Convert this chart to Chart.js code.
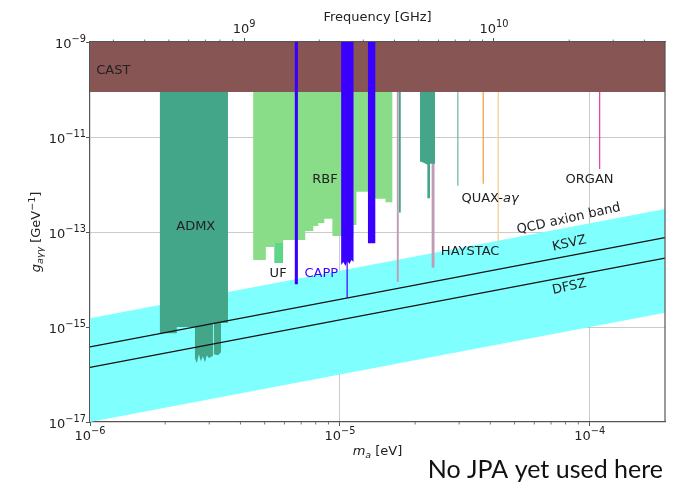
<!DOCTYPE html>
<html><head><meta charset="utf-8">
<script src="https://cdn.jsdelivr.net/npm/chart.js@4.4.0/dist/chart.umd.min.js"></script>
<style>
html,body{margin:0;padding:0;background:#fff;}
#wrap{position:relative;width:690px;height:486px;}
</style></head><body>
<div id="wrap"><canvas id="c" width="690" height="486"></canvas></div>
<script>
// ---------- data ----------
const H_EV = 4.135667e-15; // eV*s, mass -> frequency
const massRange = [1e-6, 2e-4];
const couplingRange = [1e-17, 1e-9];
const massTicks = [1e-6, 1e-5, 1e-4];
const massTickExp = ['−6', '−5', '−4'];
const freqTicks = [1e9, 1e10];
const freqTickExp = ['9', '10'];
const couplingTicks = [1e-17, 1e-15, 1e-13, 1e-11, 1e-9];
const couplingTickExp = ['−17', '−15', '−13', '−11', '−9'];

const castMass = [1e-6, 2e-4];
const castG = [8.9e-11, 8.9e-11];

const admxMass = [1.90e-6, 2.225e-6, 2.225e-6, 2.63e-6, 2.63e-6, 2.677e-6, 2.727e-6, 2.778e-6, 2.83e-6, 2.883e-6, 2.937e-6, 2.992e-6, 3.076e-6, 3.105e-6, 3.105e-6, 3.133e-6, 3.133e-6, 3.251e-6, 3.343e-6, 3.343e-6, 3.566e-6];
const admxG = [7.43e-16, 7.43e-16, 9.95e-16, 9.95e-16, 2.21e-16, 1.73e-16, 2.68e-16, 1.91e-16, 2.43e-16, 1.82e-16, 2.55e-16, 2.21e-16, 2.43e-16, 2.43e-16, 1.15e-15, 1.15e-15, 2.68e-16, 2.55e-16, 2.95e-16, 1.21e-15, 1.21e-15];

const rbfMass = [4.494e-6, 5.054e-6, 5.054e-6, 5.457e-6, 5.457e-6, 5.932e-6, 5.932e-6, 6.813e-6, 7.268e-6, 7.268e-6, 7.828e-6, 7.828e-6, 8.198e-6, 8.198e-6, 8.664e-6, 8.664e-6, 9.33e-6, 9.33e-6, 1.133e-5, 1.133e-5, 1.165e-5, 1.165e-5, 1.29e-5, 1.389e-5, 1.523e-5, 1.523e-5, 1.625e-5];
const rbfG = [2.58e-14, 2.58e-14, 4.85e-14, 4.85e-14, 5.89e-14, 5.89e-14, 6.81e-14, 6.81e-14, 6.81e-14, 1.055e-13, 1.055e-13, 1.345e-13, 1.345e-13, 1.556e-13, 1.556e-13, 1.89e-13, 1.89e-13, 8.27e-14, 8.27e-14, 1.41e-13, 1.41e-13, 7.01e-13, 7.01e-13, 4.99e-13, 4.99e-13, 4.21e-13, 4.21e-13];

const ufMass = [5.457e-6, 5.932e-6];
const ufG = [2.23e-14, 2.23e-14];

const capp1Mass = [6.585e-6, 6.795e-6];
const capp1G = [7.92e-15, 7.92e-15];
const capp2Mass = [1.011e-5, 1.033e-5, 1.052e-5, 1.072e-5, 1.092e-5, 1.112e-5, 1.136e-5];
const capp2G = [2.02e-14, 2.34e-14, 1.93e-14, 2.46e-14, 2.12e-14, 2.58e-14, 2.34e-14];
const capp2LineMass = [1.069e-5, 1.069e-5];
const capp2LineG = [1e-9, 4.13e-15];
const capp3Mass = [1.293e-5, 1.389e-5];
const capp3G = [5.8e-14, 5.8e-14];

const haystac1Mass = [1.686e-5, 1.722e-5];
const haystac1G = [8.98e-15, 8.98e-15];
const haystac2Mass = [2.324e-5, 2.36e-5, 2.396e-5];
const haystac2G = [1.85e-14, 1.72e-14, 1.85e-14];

const tealThin1Mass = [1.722e-5, 1.754e-5];
const tealThin1G = [2.57e-13, 2.57e-13];
const tealBlockMass = [2.092e-5, 2.164e-5, 2.239e-5, 2.239e-5, 2.294e-5, 2.294e-5, 2.403e-5];
const tealBlockG = [3.06e-12, 2.87e-12, 2.6e-12, 5.16e-13, 5.16e-13, 2.73e-12, 2.73e-12];
const tealThin2Mass = [2.964e-5, 2.964e-5];
const tealThin2G = [1e-9, 9.39e-13];

const quax1Mass = [3.746e-5, 3.746e-5];
const quax1G = [1e-9, 1.034e-12];
const quax2Mass = [4.302e-5, 4.302e-5];
const quax2G = [1e-9, 6.27e-14];
const organMass = [1.095e-4, 1.095e-4];
const organG = [1e-9, 2.11e-12];

const bandMass = [1e-6, 2e-4];
const bandUpperG = [1.53e-15, 3.06e-13];
const bandLowerG = [1e-17, 2e-15];
const ksvzG = [3.82e-16, 7.64e-14];
const dfszG = [1.405e-16, 2.81e-14];

// ---------- helpers ----------
const pts = (xs, ys) => xs.map((x, i) => ({x: x, y: ys[i]}));
const region = (label, xs, ys, color, order) => ({
  label, data: pts(xs, ys), fill: 'end', backgroundColor: color,
  borderColor: 'rgba(0,0,0,0)', borderWidth: 0, pointRadius: 0, order
});
const vline = (label, xs, ys, color, width, order) => ({
  label, data: pts(xs, ys), fill: false, borderColor: color,
  borderWidth: width, pointRadius: 0, order
});

const TEAL = '#43a688', CAPPC = '#3a00ff', HAY = '#bf9db4';

const datasets = [
  {label: 'KSVZ', data: pts(bandMass, ksvzG), fill: false, borderColor: '#111', borderWidth: 1.3, pointRadius: 0, order: 0},
  {label: 'DFSZ', data: pts(bandMass, dfszG), fill: false, borderColor: '#111', borderWidth: 1.3, pointRadius: 0, order: 0},
  region('CAPP1', capp1Mass, capp1G, CAPPC, 1),
  region('CAPP2', capp2Mass, capp2G, CAPPC, 1),
  vline('CAPP2 line', capp2LineMass, capp2LineG, CAPPC, 1.2, 1),
  region('CAPP3', capp3Mass, capp3G, CAPPC, 1),
  region('CAST', castMass, castG, '#875553', 2),
  region('teal1', tealThin1Mass, tealThin1G, TEAL, 3),
  region('teal block', tealBlockMass, tealBlockG, TEAL, 3),
  vline('teal2', tealThin2Mass, tealThin2G, 'rgba(67,166,136,0.6)', 1.6, 3),
  vline('QUAX1', quax1Mass, quax1G, '#f2a540', 1.3, 3),
  vline('QUAX2', quax2Mass, quax2G, '#f7cf95', 1.3, 3),
  vline('ORGAN', organMass, organG, '#e04aa0', 1.3, 3),
  region('HAYSTAC1', haystac1Mass, haystac1G, HAY, 4),
  region('HAYSTAC2', haystac2Mass, haystac2G, HAY, 4),
  region('RBF', rbfMass, rbfG, '#89dd88', 5),
  region('UF', ufMass, ufG, '#5fd58a', 6),
  region('ADMX', admxMass, admxG, TEAL, 7),
  {label: 'band', data: pts(bandMass, bandUpperG), fill: '+1', backgroundColor: '#80ffff', borderColor: 'rgba(0,0,0,0)', borderWidth: 0, pointRadius: 0, order: 9},
  {label: 'bandLow', data: pts(bandMass, bandLowerG), fill: false, borderColor: 'rgba(0,0,0,0)', borderWidth: 0, pointRadius: 0, order: 10}
];

const labels = [
  {parts: [{t: 'CAST'}], x: 1.24e-6, y: 2.5e-10},
  {parts: [{t: 'ADMX'}], x: 2.65e-6, y: 1.28e-13},
  {parts: [{t: 'RBF'}], x: 8.71e-6, y: 1.26e-12},
  {parts: [{t: 'UF'}], x: 5.66e-6, y: 1.34e-14},
  {parts: [{t: 'CAPP', color: CAPPC}], x: 8.43e-6, y: 1.34e-14},
  {parts: [{t: 'HAYSTAC'}], x: 3.32e-5, y: 3.8e-14},
  {parts: [{t: 'QUAX-'}, {t: 'aγ', italic: true}], x: 3.99e-5, y: 5.12e-13},
  {parts: [{t: 'ORGAN'}], x: 9.98e-5, y: 1.29e-12},
  {parts: [{t: 'QCD axion band'}], x: 8.24e-5, y: 1.89e-13, rot: -12.5},
  {parts: [{t: 'KSVZ'}], x: 8.28e-5, y: 5.69e-14, rot: -12.5},
  {parts: [{t: 'DFSZ'}], x: 8.28e-5, y: 6.95e-15, rot: -12.5}
];

// ---------- drawing helpers ----------
const FAM = '"DejaVu Sans", sans-serif';
const fontOf = p => (p.italic ? 'italic ' : '') + (p.size || 13) + 'px ' + FAM;
function richWidth(ctx, parts) {
  let w = 0;
  for (const p of parts) { ctx.font = fontOf(p); w += ctx.measureText(p.t).width; }
  return w;
}
function drawRich(ctx, parts, x, y, align, color) {
  const w = richWidth(ctx, parts);
  let cx = align === 'center' ? x - w / 2 : (align === 'right' ? x - w : x);
  ctx.textAlign = 'left';
  for (const p of parts) {
    ctx.font = fontOf(p);
    ctx.fillStyle = p.color || color || '#222';
    ctx.fillText(p.t, cx, y + (p.dy || 0));
    cx += ctx.measureText(p.t).width;
  }
}
const powParts = e => [{t: '10'}, {t: e, size: 9.8, dy: -6}];

function minorValues(lo, hi) {
  const out = [];
  for (let e = Math.floor(Math.log10(lo)); e <= Math.ceil(Math.log10(hi)); e++) {
    for (let k = 2; k <= 9; k++) {
      const v = k * Math.pow(10, e);
      if (v > lo && v < hi) out.push(v);
    }
  }
  return out;
}

const decorPlugin = {
  id: 'decor',
  afterDraw(chart) {
    const ctx = chart.ctx, a = chart.chartArea;
    const sx = chart.scales.x, sy = chart.scales.y, sf = chart.scales.x2;
    ctx.save();
    // right frame line
    ctx.strokeStyle = '#555'; ctx.lineWidth = 1.2;
    ctx.beginPath(); ctx.moveTo(a.right, a.top); ctx.lineTo(a.right, a.bottom); ctx.stroke();
    // minor ticks
    ctx.lineWidth = 0.8; ctx.strokeStyle = '#555';
    for (const v of minorValues(massRange[0], massRange[1])) {
      const px = sx.getPixelForValue(v);
      ctx.beginPath(); ctx.moveTo(px, a.bottom); ctx.lineTo(px, a.bottom + 2.5); ctx.stroke();
    }
    for (const v of minorValues(sf.min, sf.max)) {
      const px = sf.getPixelForValue(v);
      ctx.beginPath(); ctx.moveTo(px, a.top); ctx.lineTo(px, a.top - 2.5); ctx.stroke();
    }
    // tick labels (mathtext-like powers of ten)
    ctx.textBaseline = 'alphabetic';
    massTicks.forEach((v, i) => drawRich(ctx, powParts(massTickExp[i]), sx.getPixelForValue(v), a.bottom + 18, 'center', '#222'));
    freqTicks.forEach((v, i) => drawRich(ctx, powParts(freqTickExp[i]), sf.getPixelForValue(v), a.top - 9, 'center', '#222'));
    couplingTicks.forEach((v, i) => drawRich(ctx, powParts(couplingTickExp[i]), a.left - 4, sy.getPixelForValue(v) + 5.5, 'right', '#222'));
    // labels inside plot
    ctx.textBaseline = 'middle';
    for (const L of labels) {
      const px = sx.getPixelForValue(L.x), py = sy.getPixelForValue(L.y);
      ctx.save();
      ctx.translate(px, py);
      if (L.rot) ctx.rotate(L.rot * Math.PI / 180);
      drawRich(ctx, L.parts, 0, 0, 'center', '#222');
      ctx.restore();
    }
    // axis titles
    ctx.textBaseline = 'alphabetic';
    const cx = (a.left + a.right) / 2;
    drawRich(ctx, [{t: 'Frequency [GHz]'}], cx, 21, 'center', '#222');
    drawRich(ctx, [{t: 'm', italic: true}, {t: 'a', italic: true, size: 9.5, dy: 3}, {t: ' [eV]'}], cx, 455, 'center', '#222');
    ctx.save();
    ctx.translate(40, (a.top + a.bottom) / 2);
    ctx.rotate(-Math.PI / 2);
    drawRich(ctx, [{t: 'g', italic: true}, {t: 'aγγ', italic: true, size: 9.5, dy: 3}, {t: ' [GeV'}, {t: '−1', size: 9.5, dy: -5}, {t: ']'}], 0, 0, 'center', '#222');
    ctx.restore();
    // note
    ctx.font = '25px Lato, "Open Sans", sans-serif';
    ctx.fillStyle = '#111';
    ctx.textAlign = 'right';
    ctx.fillText('No JPA yet used here', 663, 478);
    ctx.restore();
  }
};

const GRID = 'rgba(140,140,140,0.45)';

new Chart(document.getElementById('c'), {
  type: 'line',
  data: {datasets},
  options: {
    responsive: false, animation: false, devicePixelRatio: 1,
    layout: {padding: {left: 0, right: 25, top: 0, bottom: 0}},
    plugins: {legend: {display: false}, tooltip: {enabled: false}},
    elements: {line: {tension: 0}},
    scales: {
      x: {
        type: 'logarithmic', position: 'bottom', min: massRange[0], max: massRange[1], z: 1,
        afterBuildTicks: s => { s.ticks = massTicks.map(v => ({value: v})); },
        afterFit: s => { s.height = 64; },
        ticks: {display: false},
        grid: {color: c => (c.tick && c.tick.value === 1e-6) ? 'rgba(0,0,0,0)' : GRID, tickColor: '#555', tickLength: 4, lineWidth: 1},
        border: {display: true, color: '#555', width: 1.2}
      },
      x2: {
        type: 'logarithmic', position: 'top', axis: 'x', min: massRange[0] / H_EV, max: massRange[1] / H_EV, z: 1,
        afterBuildTicks: s => { s.ticks = freqTicks.map(v => ({value: v})); },
        afterFit: s => { s.height = 42; },
        ticks: {display: false},
        grid: {drawOnChartArea: false, tickColor: '#555', tickLength: 4},
        border: {display: true, color: '#555', width: 1.2}
      },
      y: {
        type: 'logarithmic', position: 'left', min: couplingRange[0], max: couplingRange[1], z: 1,
        afterBuildTicks: s => { s.ticks = couplingTicks.map(v => ({value: v})); },
        afterFit: s => { s.width = 90; },
        ticks: {display: false},
        grid: {color: c => (c.tick && (c.tick.value === 1e-9 || c.tick.value === 1e-17)) ? 'rgba(0,0,0,0)' : GRID, tickColor: '#555', tickLength: 4, lineWidth: 1},
        border: {display: true, color: '#555', width: 1.2}
      }
    }
  },
  plugins: [decorPlugin]
});
</script>
</body></html>
